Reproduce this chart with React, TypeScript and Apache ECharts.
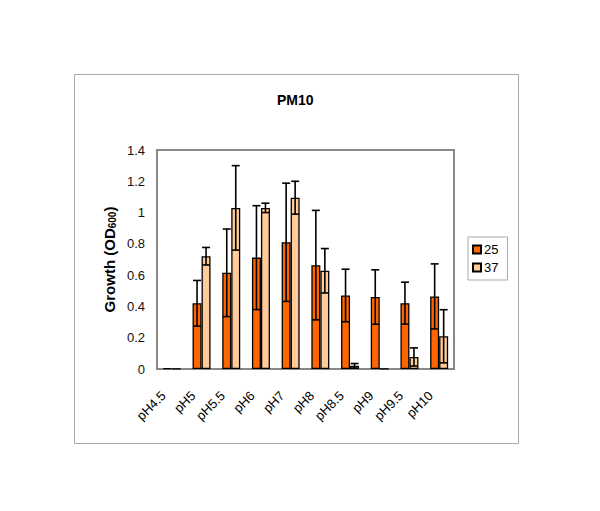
import React, { useEffect, useRef } from "react";
import * as echarts from "echarts";

const categories = ["pH4.5", "pH5", "pH5.5", "pH6", "pH7", "pH8", "pH8.5", "pH9", "pH9.5", "pH10"];
const growth25 = [0.005, 0.42, 0.615, 0.712, 0.81, 0.664, 0.47, 0.46, 0.421, 0.464];
const err25 = [0, 0.146, 0.28, 0.332, 0.378, 0.35, 0.168, 0.174, 0.134, 0.208];
const growth37 = [0.002, 0.721, 1.03, 1.03, 1.095, 0.628, 0.02, 0.002, 0.077, 0.209];
const err37 = [0, 0.056, 0.27, 0.03, 0.105, 0.142, 0.015, 0, 0.058, 0.17];
const seriesNames = ["25", "37"];

const FONT = "Arial, 'Liberation Sans', sans-serif";

function errorSeries(values: number[], errs: number[], offset: number) {
  return {
    type: "custom",
    z: 10,
    silent: true,
    data: values.map((v, i) => [i, v, errs[i]]),
    renderItem: (params: any, api: any) => {
      const i = api.value(0);
      const v = api.value(1);
      const e = api.value(2);
      if (!e) return null;
      const top = api.coord([i, v + e]);
      const bot = api.coord([i, Math.max(0, v - e)]);
      const x = top[0] + offset;
      const hw = 4;
      const style = { stroke: "#000", lineWidth: 1.6 };
      return {
        type: "group",
        children: [
          { type: "line", shape: { x1: x, y1: top[1], x2: x, y2: bot[1] }, style },
          { type: "line", shape: { x1: x - hw, y1: top[1], x2: x + hw, y2: top[1] }, style },
          { type: "line", shape: { x1: x - hw, y1: bot[1], x2: x + hw, y2: bot[1] }, style },
        ],
      };
    },
  };
}

export default function App() {
  const ref = useRef<HTMLDivElement>(null);
  useEffect(() => {
    if (!ref.current) return;
    const chart = echarts.init(ref.current, undefined, { renderer: "svg" });
    chart.setOption({
      animation: false,
      backgroundColor: "#fff",
      title: {
        text: "PM10",
        left: 277,
        top: 93,
        padding: 0,
        textStyle: { fontFamily: FONT, fontSize: 14, fontWeight: "bold", color: "#000" },
      },
      graphic: [
        {
          type: "rect",
          shape: { x: 74.5, y: 74.5, width: 444, height: 369 },
          style: { fill: "none", stroke: "#aaa", lineWidth: 1 },
          silent: true,
          z: -1,
        },
      ],
      legend: {
        data: seriesNames,
        orient: "vertical",
        left: 468,
        top: 237,
        padding: [6, 9, 6, 4],
        itemWidth: 8,
        itemHeight: 8,
        itemGap: 5,
        icon: "rect",
        borderColor: "#aaa",
        borderWidth: 1,
        textStyle: { fontFamily: FONT, fontSize: 13, color: "#000", padding: [0, 0, 0, -2] },
      },
      grid: {
        left: 157,
        right: 146,
        top: 150,
        bottom: 142,
        show: true,
        borderColor: "#888",
        borderWidth: 2,
      },
      xAxis: {
        type: "category",
        data: categories,
        axisLine: { lineStyle: { color: "#888", width: 2 } },
        axisTick: { show: false },
        axisLabel: {
          rotate: 45,
          margin: 16,
          padding: [0, 12, 0, 0],
          fontFamily: FONT,
          fontSize: 13,
          color: "#000",
          interval: 0,
        },
      },
      yAxis: {
        type: "value",
        min: 0,
        max: 1.4,
        interval: 0.2,
        name: "{b|Growth (OD}{s|600}{b|)}",
        nameLocation: "middle",
        nameGap: 40,
        nameRotate: 90,
        nameTextStyle: {
          rich: {
            b: { fontFamily: FONT, fontSize: 15, fontWeight: "bold", color: "#000" },
            s: { fontFamily: FONT, fontSize: 10, fontWeight: "bold", color: "#000", verticalAlign: "bottom", padding: [6, 0, 0, 0] },
          },
        },
        splitLine: { show: false },
        axisLine: { show: true, lineStyle: { color: "#888", width: 2 } },
        axisTick: { show: false },
        axisLabel: {
          margin: 12,
          fontFamily: FONT,
          fontSize: 13,
          color: "#111",
          formatter: (v: number) => String(Math.round(v * 10) / 10),
        },
      },
      series: [
        {
          name: seriesNames[0],
          type: "bar",
          data: growth25,
          barWidth: 9,
          barGap: "0%",
          itemStyle: { color: "#FF6600", borderColor: "#000", borderWidth: 1.3 },
        },
        {
          name: seriesNames[1],
          type: "bar",
          data: growth37,
          barWidth: 9,
          barGap: "0%",
          itemStyle: { color: "#FFCC99", borderColor: "#000", borderWidth: 1.3 },
        },
        errorSeries(growth25, err25, -4.5),
        errorSeries(growth37, err37, 4.5),
      ],
    });
    return () => chart.dispose();
  }, []);
  return (
    <div
      ref={ref}
      style={{ position: "absolute", left: 0, top: 0, width: 600, height: 511 }}
    />
  );
}
